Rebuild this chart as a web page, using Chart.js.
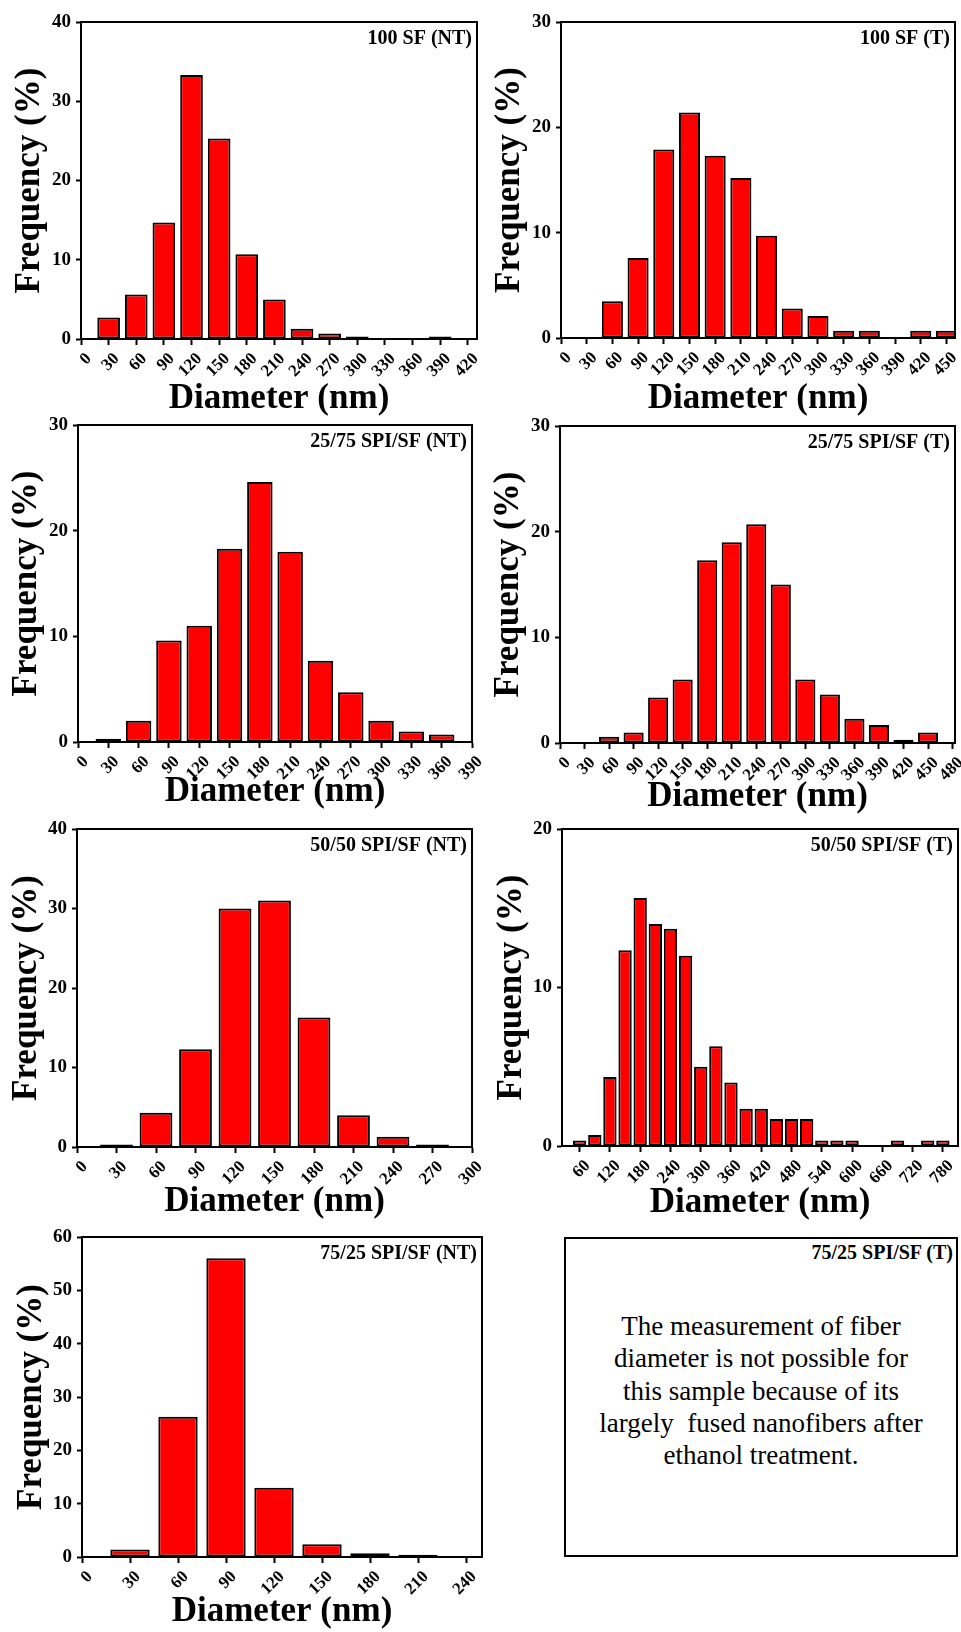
<!DOCTYPE html>
<html>
<head>
<meta charset="utf-8">
<title>Fiber diameter distributions</title>
<script src="https://cdn.jsdelivr.net/npm/chart.js@4.4.1/dist/chart.umd.min.js"></script>
<style>
  body { margin: 0; background: #fff; }
  #page { position: relative; width: 961px; height: 1632px; overflow: hidden; background: #fff; }
  #page canvas { position: absolute; }
  #note { position: absolute; left: 564px; top: 1237px; width: 394px; height: 320px;
          border: 2px solid #000; box-sizing: border-box; color: #000;
          font-family: "Times New Roman", "Liberation Serif", Tinos, "DejaVu Serif", serif; }
  #note .tag { position: absolute; right: 3px; top: 3px; font-weight: bold; font-size: 20px; line-height: 20px; white-space: nowrap; }
  #note .msg { position: absolute; left: 0; right: 0; top: 71px; text-align: center; font-size: 27px; line-height: 32.3px; }
</style>
</head>
<body>
<div id="page">
  <div id="note">
    <div class="tag">75/25 SPI/SF (T)</div>
    <div class="msg">The measurement of fiber<br>diameter is not possible for<br>this sample because of its<br>largely&nbsp; fused nanofibers after<br>ethanol treatment.</div>
  </div>
</div>
<script>
// --- data (bin centre in nm, frequency in %) ---
const panelNames = ['100 SF (NT)', '100 SF (T)', '25/75 SPI/SF (NT)', '25/75 SPI/SF (T)',
                    '50/50 SPI/SF (NT)', '50/50 SPI/SF (T)', '75/25 SPI/SF (NT)'];

const bins_100SF_NT = [30, 60, 90, 120, 150, 180, 210, 240, 270, 300, 330, 360, 390];
const freq_100SF_NT = [2.7, 5.6, 14.7, 33.3, 25.3, 10.7, 5.0, 1.3, 0.7, 0.3, 0, 0, 0.3];

const bins_100SF_T = [30, 60, 90, 120, 150, 180, 210, 240, 270, 300, 330, 360, 390, 420, 450];
const freq_100SF_T = [0, 3.5, 7.6, 17.9, 21.4, 17.3, 15.2, 9.7, 2.8, 2.1, 0.7, 0.7, 0, 0.7, 0.7];

const bins_2575_NT = [30, 60, 90, 120, 150, 180, 210, 240, 270, 300, 330, 360];
const freq_2575_NT = [0.3, 2.0, 9.6, 11.0, 18.3, 24.6, 18.0, 7.7, 4.7, 2.0, 1.0, 0.7];

const bins_2575_T = [30, 60, 90, 120, 150, 180, 210, 240, 270, 300, 330, 360, 390, 420, 450];
const freq_2575_T = [0, 0.6, 1.0, 4.3, 6.0, 17.3, 19.0, 20.7, 15.0, 6.0, 4.6, 2.3, 1.7, 0.3, 1.0];

const bins_5050_NT = [30, 60, 90, 120, 150, 180, 210, 240, 270];
const freq_5050_NT = [0.3, 4.3, 12.3, 30.0, 31.0, 16.3, 4.0, 1.3, 0.3];

const bins_5050_T = [60, 90, 120, 150, 180, 210, 240, 270, 300, 330, 360, 390, 420,
                     450, 480, 510, 540, 570, 600, 630, 660, 690, 720, 750, 780];
const freq_5050_T = [0.35, 0.7, 4.35, 12.35, 15.65, 14.0, 13.7, 12.0, 5.0, 6.3, 4.0, 2.35, 2.35,
                     1.7, 1.7, 1.7, 0.35, 0.35, 0.35, 0, 0, 0.35, 0, 0.35, 0.35];

const bins_7525_NT = [30, 60, 90, 120, 150, 180, 210];
const freq_7525_NT = [1.4, 26.3, 56.0, 13.0, 2.4, 0.7, 0.4];

// axis ranges and tick labels
const xTicks30_420 = [0, 30, 60, 90, 120, 150, 180, 210, 240, 270, 300, 330, 360, 390, 420];
const xTicks30_450 = [0, 30, 60, 90, 120, 150, 180, 210, 240, 270, 300, 330, 360, 390, 420, 450];
const xTicks30_390 = [0, 30, 60, 90, 120, 150, 180, 210, 240, 270, 300, 330, 360, 390];
const xTicks30_480 = [0, 30, 60, 90, 120, 150, 180, 210, 240, 270, 300, 330, 360, 390, 420, 450, 480];
const xTicks30_300 = [0, 30, 60, 90, 120, 150, 180, 210, 240, 270, 300];
const xTicks60_780 = [60, 120, 180, 240, 300, 360, 420, 480, 540, 600, 660, 720, 780];
const xTicks30_240 = [0, 30, 60, 90, 120, 150, 180, 210, 240];

const xMin = [0, 0, 0, 0, 0, 25, 0];
const xMax = [430, 460, 390, 483, 300, 810, 250];
const yMax = [40, 30, 30, 30, 40, 20, 60];

const allBins = [bins_100SF_NT, bins_100SF_T, bins_2575_NT, bins_2575_T, bins_5050_NT, bins_5050_T, bins_7525_NT];
const allFreq = [freq_100SF_NT, freq_100SF_T, freq_2575_NT, freq_2575_T, freq_5050_NT, freq_5050_T, freq_7525_NT];
const allTicks = [xTicks30_420, xTicks30_450, xTicks30_390, xTicks30_480, xTicks30_300, xTicks60_780, xTicks30_240];

// layout: plot area left, top, right, bottom on the page, x title offset, y title centre
const boxes = [
  [81, 22, 477, 339, 60, 30],
  [561, 22, 955, 338, 61, 30],
  [78, 425, 472, 742, 50, 27],
  [560, 426, 955, 743, 54, 29],
  [77, 829, 472, 1147, 55, 27],
  [562, 829, 958, 1146, 57, 32],
  [82, 1237, 482, 1557, 55, 32]
];
const barPct = [0.82, 0.82, 0.84, 0.82, 0.83, 0.88, 0.82];

const SERIF = '"Times New Roman", "Liberation Serif", Tinos, "DejaVu Serif", serif';
Chart.defaults.font.family = SERIF;
Chart.defaults.color = '#000';

// box round the plot + sample name in the top right corner
const framePlugin = {
  id: 'frame',
  afterDraw(chart, args, opts) {
    const a = chart.chartArea;
    const ctx = chart.ctx;
    ctx.save();
    ctx.strokeStyle = '#000';
    ctx.lineWidth = 2;
    ctx.strokeRect(a.left, a.top, a.right - a.left, a.bottom - a.top);
    ctx.fillStyle = '#000';
    ctx.font = 'bold 20px ' + SERIF;
    ctx.textAlign = 'right';
    ctx.textBaseline = 'alphabetic';
    ctx.fillText(opts.text, a.right - 5, a.top + 22);
    ctx.restore();
  }
};

const page = document.getElementById('page');
const PAD_TOP = 22, AXIS_H = 80, TITLE_SIZE = 35;

boxes.forEach((b, i) => {
  const [L, T, R, B, xtOff, ytOff] = b;
  const colX = L < 480 ? 0 : 480;
  const cw = colX === 0 ? 490 : 481;
  const ch = (B - T) + PAD_TOP + AXIS_H;

  const cv = document.createElement('canvas');
  cv.width = cw;
  cv.height = ch;
  cv.style.left = colX + 'px';
  cv.style.top = (T - PAD_TOP) + 'px';
  page.appendChild(cv);

  const points = allBins[i].map((x, k) => ({ x: x, y: allFreq[i][k] }));
  const xt = allTicks[i];

  new Chart(cv, {
    type: 'bar',
    data: {
      datasets: [{
        data: points,
        backgroundColor: '#ff0000',
        borderColor: '#000',
        borderWidth: 2,
        borderSkipped: false,
        categoryPercentage: 1,
        barPercentage: barPct[i]
      }]
    },
    options: {
      responsive: false,
      animation: false,
      devicePixelRatio: 1,
      layout: { padding: { top: PAD_TOP, left: 0, bottom: 0, right: cw - (R - colX) } },
      plugins: {
        legend: { display: false },
        tooltip: { enabled: false },
        frame: { text: panelNames[i] }
      },
      scales: {
        x: {
          type: 'linear',
          offset: false,
          bounds: 'data',
          min: xMin[i],
          max: xMax[i],
          afterBuildTicks: s => { s.ticks = xt.map(v => ({ value: v })); },
          afterFit: s => { s.height = AXIS_H; s.paddingLeft = 0; s.paddingRight = 0; },
          grid: { offset: false, drawOnChartArea: false, drawTicks: true, tickLength: 6, tickWidth: 2, tickColor: '#000' },
          border: { display: true, color: '#000', width: 2 },
          ticks: {
            autoSkip: false, minRotation: 45, maxRotation: 45, padding: 4, labelOffset: 8,
            font: { size: 17, weight: 'bold' }
          },
          title: {
            display: true, text: 'Diameter (nm)',
            font: { size: TITLE_SIZE, weight: 'bold', lineHeight: 1 },
            padding: { top: 0, bottom: AXIS_H - TITLE_SIZE / 2 - xtOff }
          }
        },
        y: {
          min: 0,
          max: yMax[i],
          ticks: { stepSize: 10, padding: 5, font: { size: 19, weight: 'bold' } },
          afterFit: s => { s.width = L - colX; s.paddingTop = 0; s.paddingBottom = 0; },
          grid: { drawOnChartArea: false, drawTicks: true, tickLength: 5, tickWidth: 2, tickColor: '#000' },
          border: { display: true, color: '#000', width: 2 },
          title: {
            display: true, text: 'Frequency (%)',
            font: { size: TITLE_SIZE, weight: 'bold', lineHeight: 1 },
            padding: { top: ytOff - TITLE_SIZE / 2, bottom: 0 }
          }
        }
      }
    },
    plugins: [framePlugin]
  });
});
</script>
</body>
</html>
